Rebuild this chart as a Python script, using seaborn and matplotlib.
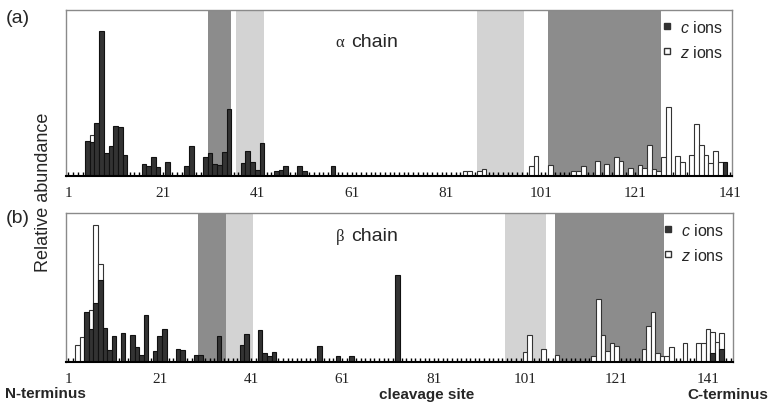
import matplotlib
matplotlib.use("Agg")
import matplotlib.pyplot as plt
from matplotlib.lines import Line2D
from matplotlib.ticker import MultipleLocator, FixedLocator
import pandas as pd
import seaborn as sns

# ---- data (cleavage site -> relative abundance) ----
alpha_c_pos = [5, 6, 7, 8, 9, 10, 11, 12, 13, 17, 18, 19, 20, 22, 26, 27, 30, 31, 32, 33, 34, 35,
               38, 39, 40, 41, 42, 45, 46, 47, 50, 51, 57, 140]
alpha_c_val = [21, 20.5, 32, 87.5, 14, 18, 30, 29.7, 12.7, 7, 5.8, 11.3, 5.4, 8.2, 6, 18, 11.6, 13.9, 7, 6.4, 14.6, 40.4,
               7.6, 14.9, 8.2, 3.6, 19.7, 3.2, 3.8, 5.8, 5.8, 3.2, 6, 8.2]
alpha_z_pos = [6, 85, 86, 88, 89, 99, 100, 103, 108, 109, 110, 113, 115, 117, 118, 120, 122, 123, 124, 125, 126,
               127, 128, 130, 131, 133, 134, 135, 136, 137, 138, 139]
alpha_z_val = [24.5, 3, 3, 3, 4, 6, 12.2, 6.8, 3.2, 2.8, 5.8, 9.2, 7, 11.6, 9.2, 4.6, 6.4, 5, 18.9, 4, 3,
               11.3, 41.7, 12.2, 8.6, 12.7, 31.3, 18.9, 12.7, 7.6, 15.2, 8.6]

beta_c_pos = [5, 6, 7, 8, 9, 10, 11, 13, 15, 16, 17, 18, 20, 21, 22, 25, 26, 29, 30, 34, 39, 40, 43, 44, 45, 46,
              56, 60, 63, 73, 142, 144]
beta_c_val = [33.3, 22.1, 39.4, 55, 22.6, 8.3, 17.4, 19.5, 18.1, 10, 4.9, 31.5, 7.6, 17.7, 21.9, 8.9, 8, 4.9, 4.9,
              17.7, 11.4, 18.8, 21.5, 6, 4.3, 6.7, 10.5, 4.3, 4.3, 58.6, 6, 9]
beta_z_pos = [3, 4, 6, 7, 8, 101, 102, 105, 108, 116, 117, 118, 119, 120, 121, 127, 128, 129, 130, 131, 132, 133,
              136, 139, 140, 141, 142, 143, 144]
beta_z_val = [11.2, 17, 35.1, 92.2, 66, 6.9, 18.1, 8.7, 5, 4.3, 42, 18.1, 7.2, 12.5, 11, 8.5, 24.4, 33.3, 6, 4.3, 4.3,
              9.8, 12.5, 12.5, 12.5, 22.1, 20.3, 13.6, 19.7]

alpha_dark = [(30.5, 35.5), (102.5, 126.5)]
alpha_light = [(36.5, 42.5), (87.5, 97.5)]
beta_dark = [(29.5, 35.5), (107.5, 131.5)]
beta_light = [(35.5, 41.5), (96.5, 105.5)]

tick_sites = [1, 21, 41, 61, 81, 101, 121, 141]

sns.set_style("white")
plt.rcParams["font.family"] = ["Liberation Sans", "DejaVu Sans"]
plt.rcParams["mathtext.fontset"] = "custom"
plt.rcParams["mathtext.it"] = "Liberation Sans:italic"
plt.rcParams["mathtext.rm"] = "Liberation Sans"

fig = plt.figure(figsize=(7.73, 4.10), dpi=100)
ax_a = fig.add_axes([66 / 773, 1 - 177 / 410, 666 / 773, 166 / 410])
ax_b = fig.add_axes([66 / 773, 1 - 363 / 410, 667 / 773, 149 / 410])

DARK = "#8c8c8c"
LIGHT = "#d3d3d3"
BAR = "#333333"


def panel(ax, c_pos, c_val, z_pos, z_val, dark, light, nsites, greek, label_y):
    for lo, hi in dark:
        ax.axvspan(lo, hi, color=DARK, lw=0, zorder=0)
    for lo, hi in light:
        ax.axvspan(lo, hi, color=LIGHT, lw=0, zorder=0)
    dz = pd.DataFrame({"site": z_pos, "abund": z_val})
    dc = pd.DataFrame({"site": c_pos, "abund": c_val})
    sns.barplot(data=dz, x="site", y="abund", native_scale=True, width=1, color="white",
                saturation=1, edgecolor=BAR, linewidth=0.8, ax=ax, zorder=2)
    sns.barplot(data=dc, x="site", y="abund", native_scale=True, width=1, color=BAR,
                saturation=1, edgecolor="#111111", linewidth=0.8, ax=ax, zorder=3)
    ax.set_xlim(0.5, nsites + 0.5)
    ax.set_ylim(0, 100)
    ax.set_xlabel("")
    ax.set_ylabel("")
    ax.set_yticks([])
    ax.xaxis.set_major_locator(FixedLocator(tick_sites))
    ax.xaxis.set_minor_locator(MultipleLocator(1))
    ax.set_xticklabels([str(t) for t in tick_sites], family="Liberation Serif", fontsize=11,
                       color="#222222")
    ax.tick_params(axis="x", which="both", direction="in", length=3, width=1, color="black",
                   bottom=True, pad=7)
    for s in ["top", "left", "right"]:
        ax.spines[s].set_color("#8a8a8a")
        ax.spines[s].set_linewidth(1)
    ax.spines["bottom"].set_color("black")
    ax.spines["bottom"].set_linewidth(1.5)
    ax.spines["bottom"].set_zorder(5)
    ax.text(0.404, label_y, greek, transform=ax.transAxes, fontsize=12,
            family="Liberation Serif", va="center", ha="left")
    ax.text(0.428, label_y, "chain", transform=ax.transAxes, fontsize=14, va="center", ha="left")
    handles = [
        Line2D([], [], marker="s", ls="", markersize=4.5, markerfacecolor=BAR, markeredgecolor=BAR),
        Line2D([], [], marker="s", ls="", markersize=4.5, markerfacecolor="white", markeredgecolor=BAR),
    ]
    ax.legend(handles, [r"$c$ ions", r"$z$ ions"], loc="upper right", frameon=False, fontsize=11.5,
              handlelength=0.6, handletextpad=0.5, labelspacing=0.55, borderaxespad=0.15)


panel(ax_a, alpha_c_pos, alpha_c_val, alpha_z_pos, alpha_z_val, alpha_dark, alpha_light, 141,
      "α", 0.81)
panel(ax_b, beta_c_pos, beta_c_val, beta_z_pos, beta_z_val, beta_dark, beta_light, 146,
      "β", 0.846)

fig.text(0.023, 0.955, "(a)", fontsize=14, ha="center", va="center")
fig.text(0.023, 0.468, "(b)", fontsize=14, ha="center", va="center")
fig.text(0.056, 0.53, "Relative abundance", rotation=90, fontsize=13, ha="center", va="center")
fig.text(5 / 773, 1 - 394 / 410, "N-terminus", fontsize=11, weight="bold", ha="left", va="center")
fig.text(427 / 773, 1 - 395 / 410, "cleavage site", fontsize=11, weight="bold", ha="center", va="center")
fig.text(768 / 773, 1 - 395 / 410, "C-terminus", fontsize=11, weight="bold", ha="right", va="center")

fig.savefig("out.png", dpi=100)
